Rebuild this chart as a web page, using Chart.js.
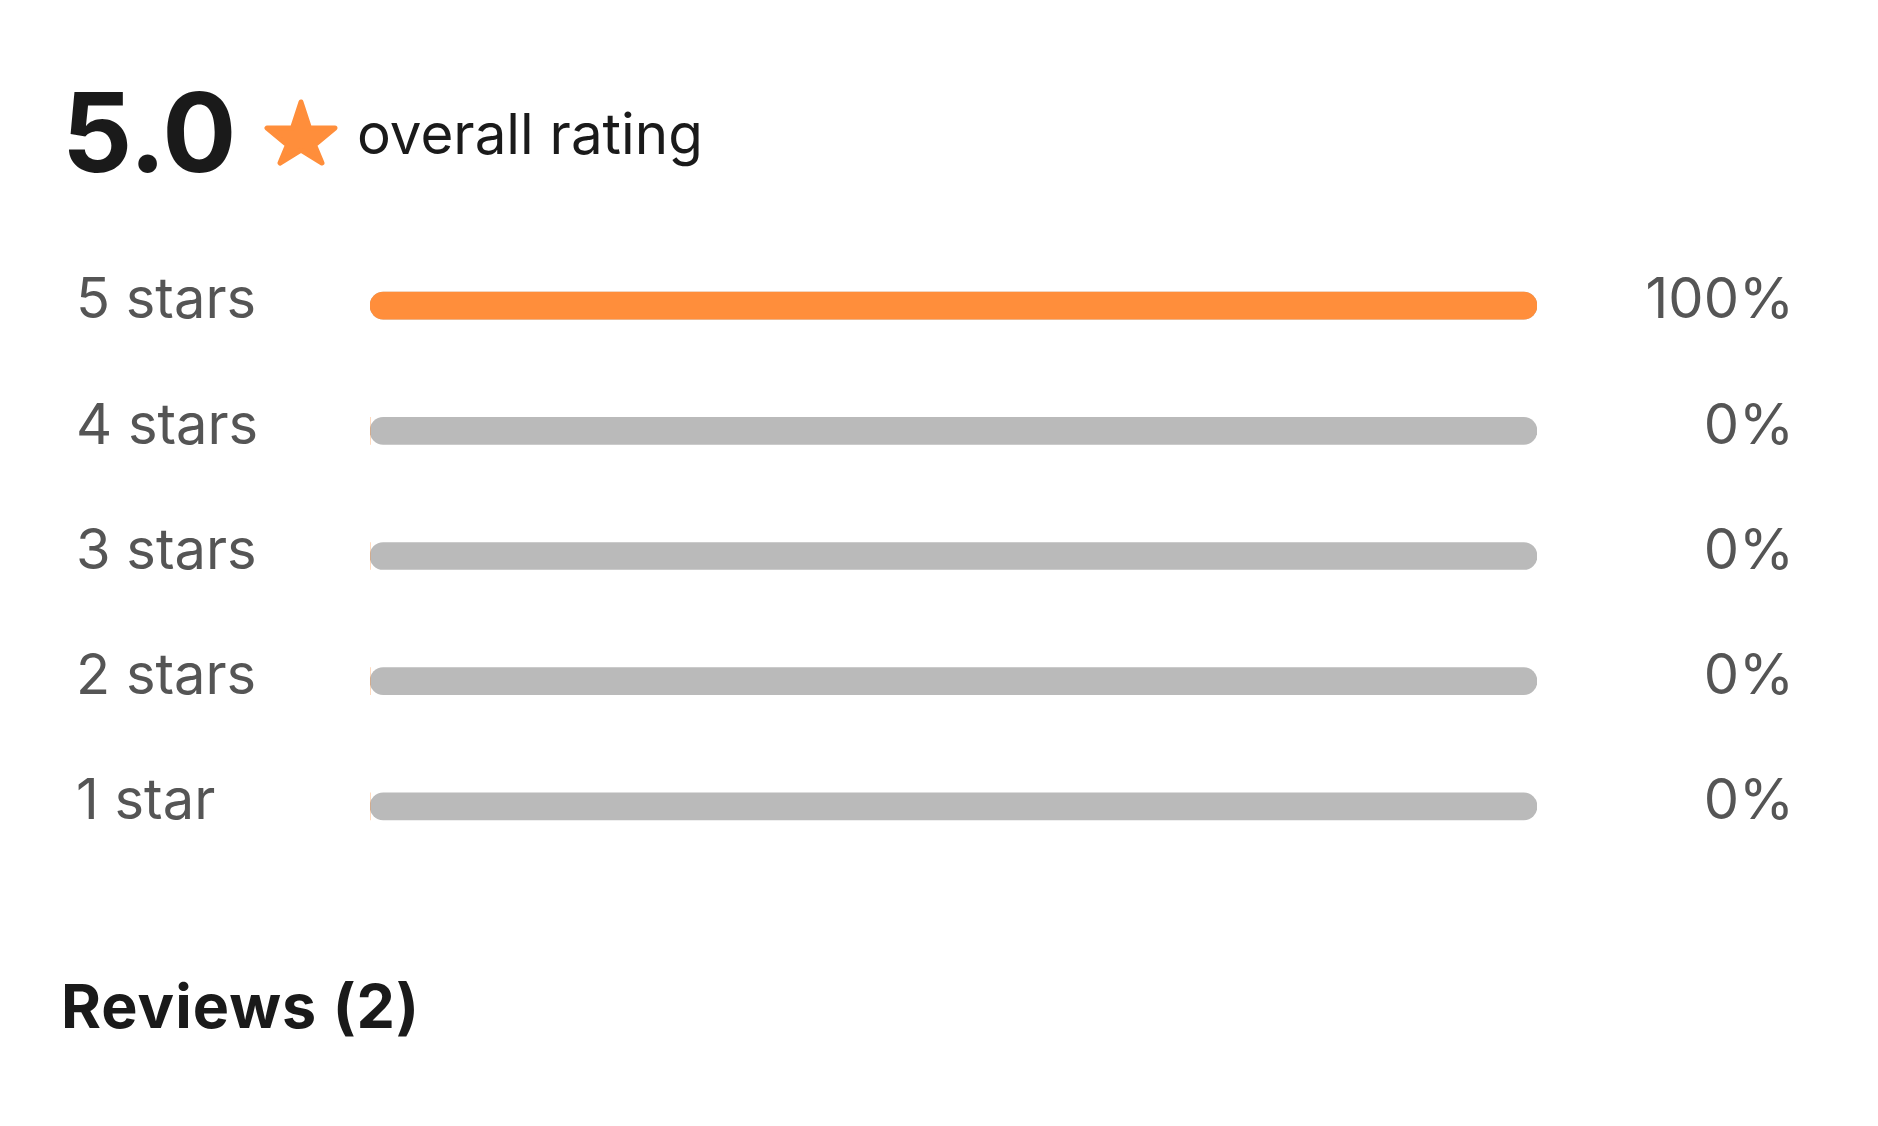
<!DOCTYPE html>
<html>
<head>
<meta charset="utf-8">
<script src="https://cdn.jsdelivr.net/npm/chart.js@4/dist/chart.umd.min.js"></script>
<style>
  html, body { margin: 0; padding: 0; background: #ffffff; }
  body { width: 1878px; height: 1126px; position: relative; overflow: hidden; font-family: Inter, "Noto Sans", sans-serif; }
  #chart { position: absolute; left: 0; top: 0; }
  .abs { position: absolute; white-space: nowrap; line-height: 1; }
  #score { left: 62px; top: 77px; font-size: 110px; font-weight: 700; color: #1a1a1a; letter-spacing: -0.5px; }
  #star { left: 263px; top: 98px; width: 76px; height: 68px; }
  #overall { left: 357px; top: 106px; font-size: 56.5px; font-weight: 400; color: #1a1a1a; }
  #reviews { left: 61px; top: 976px; font-size: 61px; font-weight: 700; color: #1a1a1a; letter-spacing: 1px; }
</style>
</head>
<body>
<canvas id="chart" width="1878" height="1126"></canvas>
<div class="abs" id="score">5.0</div>
<svg class="abs" id="star" viewBox="0 0 76 68">
  <path d="M38 4 L46.5 30 L72 30 L51.5 47 L59 65 L38 52 L17 65 L24.5 47 L4 30 L29.5 30 Z"
        fill="#ff8e3b" stroke="#ff8e3b" stroke-width="5" stroke-linejoin="round"/>
</svg>
<div class="abs" id="overall">overall rating</div>
<div class="abs" id="reviews">Reviews (2)</div>
<script>
const categories = ['5 stars', '4 stars', '3 stars', '2 stars', '1 star'];
const shares = [100, 0, 0, 0, 0];
const percentLabels = ['100%', '0%', '0%', '0%', '0%'];
const trackValues = [100, 100, 100, 100, 100];

const ORANGE = '#ff8e3b';
const TRACK = '#bababa';
const LABEL = '#555555';

function draw() {
  new Chart(document.getElementById('chart'), {
    type: 'bar',
    data: {
      labels: categories,
      datasets: [
        { data: shares, backgroundColor: ORANGE, barThickness: 27, borderRadius: 14, borderSkipped: false, grouped: false },
        { data: trackValues, backgroundColor: TRACK, barThickness: 27, borderRadius: 14, borderSkipped: false, grouped: false }
      ]
    },
    options: {
      indexAxis: 'y',
      responsive: false,
      animation: false,
      devicePixelRatio: 1,
      layout: { padding: { left: 76, right: 84, top: 243, bottom: 257 } },
      plugins: { legend: { display: false }, tooltip: { enabled: false } },
      scales: {
        x: { type: 'linear', min: 0, max: 100, display: false },
        y: {
          grid: { display: false }, border: { display: false },
          ticks: { crossAlign: 'far', padding: 0, labelOffset: -4, color: LABEL, font: { family: 'Inter', size: 56 } },
          afterFit(s) { s.width = 294; }
        },
        y2: {
          type: 'category', labels: percentLabels, position: 'right', offset: true,
          grid: { display: false }, border: { display: false },
          ticks: { crossAlign: 'far', padding: 0, labelOffset: -4, color: LABEL, font: { family: 'Inter', size: 56 } },
          afterFit(s) { s.width = 257; }
        }
      }
    }
  });
}
Promise.all([
  document.fonts.load('56px Inter'),
  document.fonts.load('700 110px Inter')
]).then(draw, draw);
</script>
</body>
</html>
